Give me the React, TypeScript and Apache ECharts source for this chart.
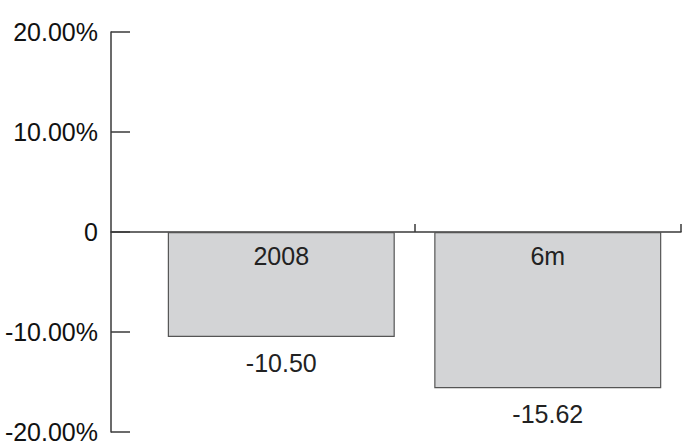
import React, { useEffect, useRef } from "react";
import * as echarts from "echarts";

const categories = ["2008", "6m"];
const values = [-10.5, -15.62];
const categoryPositions = [0.5, 1.5];
const boundaryTicks = [1, 2];
const yMin = -20;
const yMax = 20;
const yStep = 10;

const FONT = "Liberation Sans, Arial, Helvetica, sans-serif";

export default function App() {
  const ref = useRef<HTMLDivElement>(null);
  useEffect(() => {
    if (!ref.current) return;
    const chart = echarts.init(ref.current, undefined, { renderer: "svg" });
    const points = values.map((v, i) => [categoryPositions[i], v]);
    chart.setOption({
      animation: false,
      backgroundColor: "#ffffff",
      grid: { left: 111, right: 6, top: 32, bottom: 15, containLabel: false },
      xAxis: {
        type: "value",
        min: -0.139,
        max: 2,
        axisLine: { show: true, onZero: true, lineStyle: { color: "#3a3a3a", width: 1.5 } },
        axisTick: {
          show: true,
          inside: true,
          length: 8,
          customValues: boundaryTicks,
          lineStyle: { color: "#3a3a3a", width: 1.5 },
        },
        axisLabel: { show: false },
        splitLine: { show: false },
      },
      yAxis: {
        type: "value",
        min: yMin,
        max: yMax,
        interval: yStep,
        axisLine: { show: true, onZero: false, lineStyle: { color: "#3a3a3a", width: 1.5 } },
        axisTick: { show: true, inside: true, length: 19, lineStyle: { color: "#3a3a3a", width: 1.5 } },
        axisLabel: {
          margin: 13,
          fontSize: 25,
          fontFamily: FONT,
          color: "#111111",
          formatter: (v: number) => (v === 0 ? "0" : v.toFixed(2) + "%"),
        },
        splitLine: { show: false },
      },
      series: [
        {
          type: "bar",
          data: points,
          barWidth: 227,
          barGap: "-100%",
          itemStyle: { color: "#d3d4d6", borderColor: "#555555", borderWidth: 1.2 },
          label: {
            show: true,
            position: "insideTop",
            distance: 11,
            fontSize: 25,
            fontFamily: FONT,
            color: "#222222",
            formatter: (p: any) => categories[p.dataIndex],
          },
          z: 2,
        },
        {
          type: "bar",
          data: points,
          barWidth: 227,
          barGap: "-100%",
          itemStyle: { color: "rgba(0,0,0,0)", borderWidth: 0 },
          label: {
            show: true,
            position: "bottom",
            distance: 13,
            fontSize: 25,
            fontFamily: FONT,
            color: "#222222",
            formatter: (p: any) => values[p.dataIndex].toFixed(2),
          },
          z: 3,
        },
      ],
    });
    return () => chart.dispose();
  }, []);
  return (
    <div
      ref={ref}
      style={{ position: "absolute", left: 0, top: 0, width: 687, height: 447 }}
    />
  );
}
